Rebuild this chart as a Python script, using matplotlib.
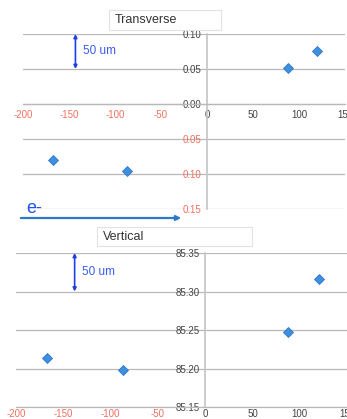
import matplotlib
matplotlib.use("Agg")
import matplotlib.pyplot as plt
from matplotlib.patches import FancyBboxPatch, FancyArrowPatch

# data
trans_x = [-167, -87, 88, 120]
trans_y = [-0.080, -0.096, 0.051, 0.075]
vert_x = [-167, -87, 88, 120]
vert_y = [85.213, 85.198, 85.248, 85.316]

x_ticks = [-200, -150, -100, -50, 0, 50, 100, 150]
trans_ticks = [-0.15, -0.10, -0.05, 0.00, 0.05, 0.10]
vert_ticks = [85.15, 85.20, 85.25, 85.30, 85.35]

RED = "#f2705e"
GREY_TXT = "#444444"
GRID = "#b8b8b8"
MARK = "#3f8fe0"

plt.rcParams["font.family"] = ["Liberation Sans", "DejaVu Sans"]

W, H = 347, 419
fig = plt.figure(figsize=(W / 100, H / 100), dpi=100)


def px_axes(left, top, right, bottom):
    return fig.add_axes([left / W, 1 - bottom / H, (right - left) / W, (bottom - top) / H])


def style(ax, yticks, ylim, fmt, xcross, xpad):
    ax.set_xlim(-200, 150)
    ax.set_ylim(*ylim)
    ax.tick_params(axis="x", length=0, labelsize=7, pad=xpad)
    ax.tick_params(axis="y", length=0, labelsize=7, pad=4)
    ax.set_xticks(x_ticks)
    ax.set_xticklabels([str(v) for v in x_ticks])
    ax.set_yticks(yticks)
    ax.set_yticklabels([fmt(v) for v in yticks])
    ax.set_axisbelow(True)
    ax.yaxis.grid(True, color=GRID, linewidth=0.9)
    ax.spines["top"].set_visible(False)
    ax.spines["right"].set_visible(False)
    ax.spines["left"].set_position(("data", 0))
    ax.spines["bottom"].set_position(("data", xcross))
    ax.spines["left"].set_color("#c4c4c4")
    ax.spines["left"].set_linewidth(1.2)
    ax.spines["bottom"].set_color(GRID)
    ax.spines["bottom"].set_linewidth(0.9)
    ax.patch.set_alpha(0)


def colour_labels(ax, yticks):
    for lbl, v in zip(ax.get_xticklabels(), x_ticks):
        lbl.set_color(RED if v < 0 else GREY_TXT)
    for lbl, v in zip(ax.get_yticklabels(), yticks):
        lbl.set_color(RED if v < 0 else GREY_TXT)


def title_box(x0, y0, x1, y1, text):
    fig.patches.append(FancyBboxPatch((x0 / W, 1 - y1 / H), (x1 - x0) / W, (y1 - y0) / H,
                                      boxstyle="square,pad=0", transform=fig.transFigure,
                                      facecolor="white", edgecolor="#e2e2e2", linewidth=0.8))
    fig.text((x0 + 6) / W, 1 - ((y0 + y1) / 2) / H, text, fontsize=9, color="#333333",
             ha="left", va="center")


def span_arrow(ax, x, y0, y1):
    ax.annotate("", xy=(x, y1), xytext=(x, y0),
                arrowprops=dict(arrowstyle="<|-|>", color="#1f3fe0", lw=1.2,
                                mutation_scale=5, shrinkA=0, shrinkB=0))
    ax.text(x + 8, (y0 + y1) / 2, "50 um", color="#3a5cf2", fontsize=8.5, va="center")


# transverse
ax1 = px_axes(23, 34, 345, 209)
style(ax1, trans_ticks, (-0.15, 0.10), lambda v: f"{abs(v):.2f}", 0, 4)
ax1.plot(trans_x, trans_y, linestyle="none", marker="D", markersize=5.2,
         markerfacecolor=MARK, markeredgecolor="#2f78c8", markeredgewidth=0.6)
span_arrow(ax1, -143, 0.05, 0.10)

# vertical
ax2 = px_axes(16, 253, 347, 407)
style(ax2, vert_ticks, (85.15, 85.35), lambda v: f"{v:.2f}", 85.15, 1.5)
ax2.plot(vert_x, vert_y, linestyle="none", marker="D", markersize=5.2,
         markerfacecolor=MARK, markeredgecolor="#2f78c8", markeredgewidth=0.6)
span_arrow(ax2, -138, 85.30, 85.35)

title_box(109, 10, 221, 30, "Transverse")
title_box(97, 227, 252, 246, "Vertical")

# beam direction
fig.patches.append(FancyArrowPatch(
    (18 / W, 1 - 218 / H), (184 / W, 1 - 218 / H), transform=fig.transFigure,
    arrowstyle="-|>", mutation_scale=7, color="#2c7bc4", lw=1.6))
fig.text(26 / W, 1 - 208 / H, "e-", color="#2050f0", fontsize=13, ha="left", va="center")

fig.canvas.draw()
colour_labels(ax1, trans_ticks)
colour_labels(ax2, vert_ticks)

fig.savefig("out.png", dpi=100)
